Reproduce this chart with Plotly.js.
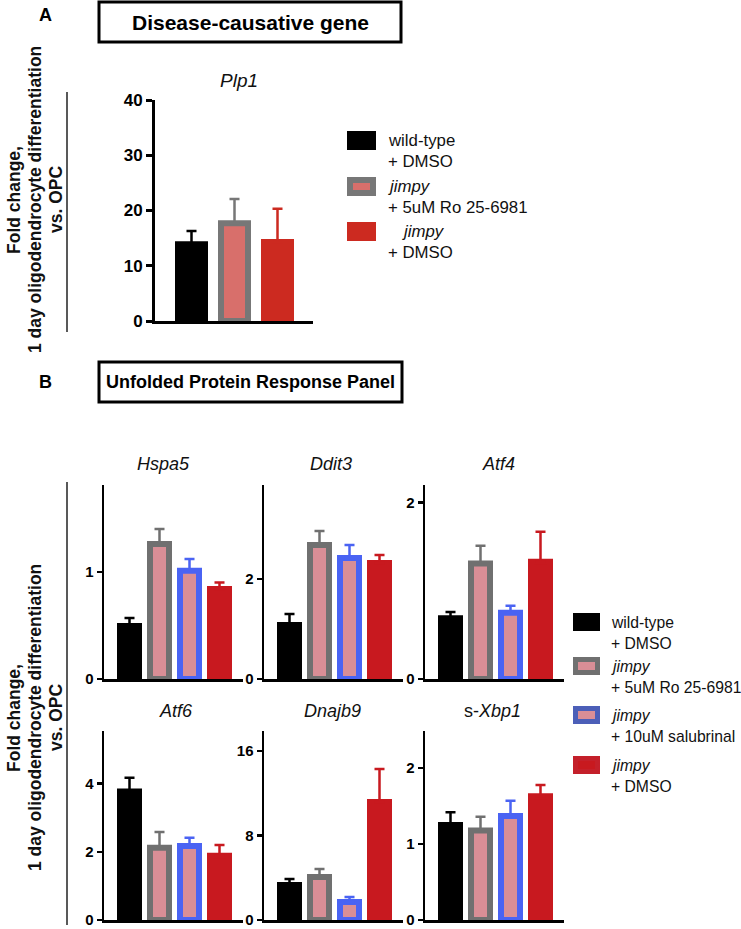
<!DOCTYPE html>
<html>
<head>
<meta charset="utf-8">
<script src="https://cdn.plot.ly/plotly-3.0.1.min.js"></script>
<style>html,body{margin:0;padding:0;background:#fff;}#chart{width:741px;height:929px;}</style>
</head>
<body>
<div id="chart"></div>
<script>
// ---------------- DATA ----------------
const groupsA = ['wild-type + DMSO', 'jimpy + 5uM Ro 25-6981', 'jimpy + DMSO'];
const plp1Mean = [13.9, 17.7, 14.3];
const plp1Sem  = [2.4, 4.4, 6.0];
const plp1Ticks = [0, 10, 20, 30, 40];

const groupsB = ['wild-type + DMSO', 'jimpy + 5uM Ro 25-6981', 'jimpy + 10uM salubrinal', 'jimpy + DMSO'];
const genesB = ['<i>Hspa5</i>', '<i>Ddit3</i>', '<i>Atf4</i>', '<i>Atf6</i>', '<i>Dnajb9</i>', 's-<i>Xbp1</i>'];
const hspa5Mean  = [0.495, 1.26, 1.01, 0.84];
const hspa5Sem   = [0.075, 0.14, 0.11, 0.06];
const ddit3Mean  = [1.08, 2.68, 2.42, 2.32];
const ddit3Sem   = [0.22, 0.28, 0.26, 0.16];
const atf4Mean   = [0.69, 1.31, 0.75, 1.33];
const atf4Sem    = [0.07, 0.20, 0.08, 0.34];
const atf6Mean   = [3.77, 2.12, 2.17, 1.88];
const atf6Sem    = [0.40, 0.46, 0.24, 0.32];
const dnajb9Mean = [3.31, 4.07, 1.70, 11.17];
const dnajb9Sem  = [0.57, 0.76, 0.48, 3.13];
const xbp1Mean   = [1.25, 1.18, 1.37, 1.63];
const xbp1Sem    = [0.17, 0.18, 0.20, 0.15];
const hspa5Ticks = [0, 1];
const ddit3Ticks = [0, 2];
const atf4Ticks  = [0, 2];
const atf6Ticks  = [0, 2, 4];
const dnajb9Ticks = [0, 8, 16];
const xbp1Ticks  = [0, 1, 2];

const legendA = [['wild-type', '+ DMSO'], ['<i>jimpy</i>', '+ 5uM Ro 25-6981'], ['<i>jimpy</i>', '+ DMSO']];
const legendB = [['wild-type', '+ DMSO'], ['<i>jimpy</i>', '+ 5uM Ro 25-6981'], ['<i>jimpy</i>', '+ 10uM salubrinal'], ['<i>jimpy</i>', '+ DMSO']];
const yTitleLines = ['Fold change,', '1 day oligodendrocyte differentiation', 'vs. OPC'];

// ---------------- STYLE ----------------
const W = 741, H = 929;
const px = x => x / W;
const py = y => 1 - y / H;
const FONT = 'Liberation Sans, Arial, sans-serif';

const fillA = ['#000000', '#d86f6b', '#cc2a20'];
const lineA = ['#000000', '#777777', '#cc2a20'];
const fillB = ['#000000', '#d98e96', '#d98e96', '#c8191f'];
const lineB = ['#000000', '#707070', '#4a63f3', '#c8191f'];
const legLineB = ['#000000', '#707070', '#4c5fb8', '#c4202a'];

const traces = [];
const layout = {
  width: W, height: H,
  margin: {l: 0, r: 0, t: 0, b: 0},
  paper_bgcolor: '#ffffff', plot_bgcolor: 'rgba(0,0,0,0)',
  showlegend: false,
  font: {family: FONT, color: '#000'},
  shapes: [], annotations: []
};

function addAxes(idx, xDom, yDom, pxPerUnit, yRange, ticks, lw, tl, tfs, xStartPx) {
  const xs = idx === 1 ? '' : String(idx);
  const xr0 = -xStartPx / pxPerUnit;
  const xr1 = xr0 + (xDom[1] - xDom[0]) / pxPerUnit;
  layout['xaxis' + xs] = {
    domain: [px(xDom[0]), px(xDom[1])], anchor: 'y' + xs,
    range: [xr0, xr1], type: 'linear',
    showline: true, linewidth: lw, linecolor: '#000',
    showticklabels: false, ticks: '', showgrid: false, zeroline: false, fixedrange: true
  };
  layout['yaxis' + xs] = {
    domain: [py(yDom[1]), py(yDom[0])], anchor: 'x' + xs,
    range: yRange, tickvals: ticks, ticktext: ticks.map(String),
    showline: true, linewidth: lw, linecolor: '#000',
    ticks: 'outside', ticklen: tl, tickwidth: lw, tickcolor: '#000',
    tickfont: {family: FONT, size: tfs, weight: 'bold', color: '#000'},
    showgrid: false, zeroline: false, fixedrange: true
  };
}

function addBars(idx, means, sems, fills, lines, width, lineW, names) {
  const xs = idx === 1 ? '' : String(idx);
  means.forEach((m, i) => {
    traces.push({
      type: 'bar', x: [i], y: [m], name: names[i],
      xaxis: 'x' + xs, yaxis: 'y' + xs, width: width,
      marker: {color: fills[i], line: {color: lines[i], width: lineW}},
      error_y: {type: 'data', symmetric: false, array: [sems[i]], arrayminus: [0],
                color: lines[i], thickness: 2.5, width: 5},
      hoverinfo: 'skip'
    });
  });
}

// Panel A
addAxes(1, [155, 313], [100, 321], 43, [0, 40], plp1Ticks, 3, 6, 17, 36.5);
addBars(1, plp1Mean, plp1Sem, fillA, lineA, 27 / 43, 6, groupsA);

// Panel B
const bMeans = [hspa5Mean, ddit3Mean, atf4Mean, atf6Mean, dnajb9Mean, xbp1Mean];
const bSems = [hspa5Sem, ddit3Sem, atf4Sem, atf6Sem, dnajb9Sem, xbp1Sem];
const bTicks = [hspa5Ticks, ddit3Ticks, atf4Ticks, atf6Ticks, dnajb9Ticks, xbp1Ticks];
const bRanges = [[0, 1.81], [0, 3.88], [0, 2.2], [0, 5.54], [0, 17.9], [0, 2.49]];
const colsX = [[104, 243], [264, 403], [425, 564]];
const rowsY = [[485, 679], [731, 920]];
const titlePos = [[163, 464], [331, 464], [498, 464], [176, 711], [332, 711], [493, 711]];
for (let k = 0; k < 6; k++) {
  const c = colsX[k % 3], r = rowsY[Math.floor(k / 3)];
  addAxes(k + 2, c, r, 30, bRanges[k], bTicks[k], 2.5, 5, 15, 25.5);
  addBars(k + 2, bMeans[k], bSems[k], fillB, lineB, 19 / 30, 6, groupsB);
  layout.annotations.push({xref: 'paper', yref: 'paper', x: px(titlePos[k][0]), y: py(titlePos[k][1]),
    text: genesB[k], showarrow: false, xanchor: 'center', yanchor: 'middle',
    font: {family: FONT, size: 18, color: '#111'}});
}

// Plp1 title
layout.annotations.push({xref: 'paper', yref: 'paper', x: px(239), y: py(80), text: '<i>Plp1</i>',
  showarrow: false, xanchor: 'center', yanchor: 'middle', font: {family: FONT, size: 19, color: '#111'}});

// Panel letters and boxed headers
[['A', 45, 15], ['B', 45, 382]].forEach(([t, x, y]) => layout.annotations.push({
  xref: 'paper', yref: 'paper', x: px(x), y: py(y), text: '<b>' + t + '</b>', showarrow: false,
  xanchor: 'center', yanchor: 'middle', font: {family: FONT, size: 18, color: '#000'}}));
[['Disease-causative gene', 99, 401, 2, 42, 21], ['Unfolded Protein Response Panel', 99, 402, 362, 402, 18]].forEach(([t, x0, x1, y0, y1, fs]) => {
  layout.shapes.push({type: 'rect', xref: 'paper', yref: 'paper', x0: px(x0), x1: px(x1), y0: py(y1), y1: py(y0),
    line: {color: '#000', width: 3}, fillcolor: 'rgba(0,0,0,0)'});
  layout.annotations.push({xref: 'paper', yref: 'paper', x: px((x0 + x1) / 2), y: py((y0 + y1) / 2),
    text: '<b>' + t + '</b>', showarrow: false, xanchor: 'center', yanchor: 'middle',
    font: {family: FONT, size: fs, color: '#000'}});
});

// Y titles and vertical rules
const yTitleX = [14, 35, 56];
[[200, 92, 332], [718, 482, 925]].forEach(([y, l0, l1]) => {
  yTitleLines.forEach((t, j) => layout.annotations.push({xref: 'paper', yref: 'paper', x: px(yTitleX[j]), y: py(y),
    text: '<b>' + t + '</b>', textangle: -90, showarrow: false, xanchor: 'center', yanchor: 'middle',
    font: {family: FONT, size: 17.5, color: '#111'}}));
  layout.shapes.push({type: 'line', xref: 'paper', yref: 'paper', x0: px(67), x1: px(67), y0: py(l0), y1: py(l1),
    line: {color: '#222', width: 1.5}});
});

// Legends (custom swatches)
function addLegend(entries, fills, lines, sqX, sqTops, sqH, lw, textX, fs, gap, indentLast) {
  entries.forEach((lines2, i) => {
    const top = sqTops[i];
    layout.shapes.push({type: 'rect', xref: 'paper', yref: 'paper',
      x0: px(sqX[0] + lw / 2), x1: px(sqX[1] - lw / 2), y0: py(top + sqH - lw / 2), y1: py(top + lw / 2),
      fillcolor: fills[i], line: {color: lines[i], width: lw}});
    lines2.forEach((t, j) => {
      const xoff = (indentLast && i === entries.length - 1 && j === 0) ? 14 : 0;
      layout.annotations.push({xref: 'paper', yref: 'paper', x: px(textX + xoff), y: py(top + sqH / 2 + j * gap),
        text: t, showarrow: false, xanchor: 'left', yanchor: 'middle',
        font: {family: FONT, size: fs, color: '#111'}});
    });
  });
}
addLegend(legendA, fillA, lineA, [347, 376], [131, 177, 222], 19, 6, 386, 16.8, 21, true);
addLegend(legendB, fillB, legLineB, [573, 600], [613, 657, 706, 756], 18, 5, 609, 15.7, 21, false);

Plotly.newPlot('chart', traces, layout, {staticPlot: true, displayModeBar: false});
</script>
</body>
</html>
